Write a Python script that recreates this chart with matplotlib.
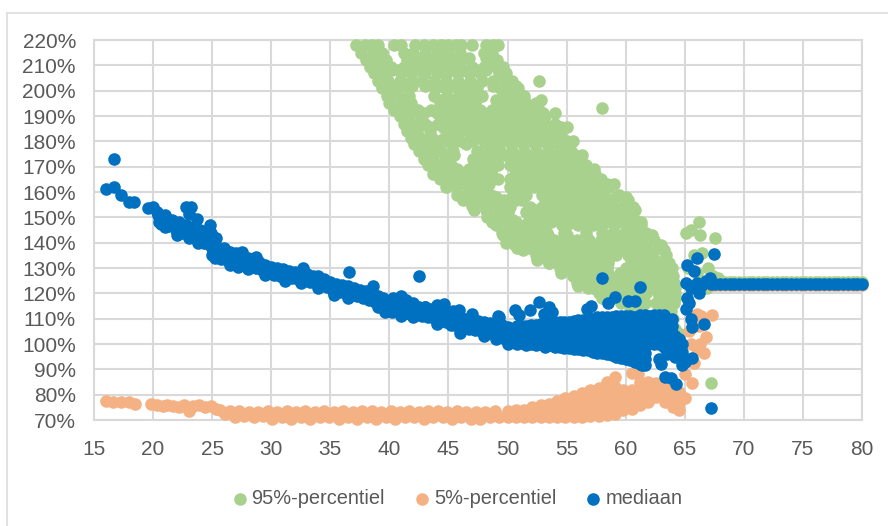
import matplotlib
matplotlib.use('Agg')
import matplotlib.pyplot as plt
from matplotlib.lines import Line2D

plt.rcParams['font.family'] = ['Liberation Sans', 'DejaVu Sans']

# 95%-percentiel, one row of ages per percentage level
green_levels = [218, 215, 212, 209.5, 207, 204, 201, 198, 195, 192.5, 190, 187, 184, 181.5, 179, 176, 173,
                170.5, 167, 165, 162, 159, 157, 154, 152, 149, 147, 144, 141, 139, 137, 135, 132, 130, 127,
                124, 122, 120, 118, 116, 113, 110, 106]
green_ages = [
    [37.2, 37.9, 38.5, 39.0, 40.4, 41.0, 42.2, 42.9, 43.7, 44.4, 45.0, 45.6, 46.1, 47.0, 48.2, 48.8, 49.2],
    [37.6, 38.6, 39.4, 41.2, 42.0, 43.0, 44.0, 45.0, 46.0, 48.0, 48.7],
    [38.0, 38.8, 39.7, 41.5, 42.8, 43.5, 44.4, 45.2, 46.0, 48.6, 49.1],
    [38.4, 39.4, 40.1, 41.2, 42.2, 43.2, 44.0, 45.0, 46.0, 47.0, 48.0, 49.0, 49.6],
    [38.7, 39.4, 41.0, 41.9, 43.0, 44.0, 44.9, 45.8, 46.7, 47.7, 49.3, 49.9],
    [39.0, 39.9, 40.9, 41.8, 42.8, 43.8, 44.8, 45.8, 46.8, 47.8, 48.8, 49.8, 50.4, 52.7],
    [39.4, 40.2, 41.6, 43.9, 44.7, 45.7, 46.6, 47.4, 49.4, 50.3, 50.9],
    [39.8, 40.7, 41.7, 43.8, 44.9, 45.9, 46.9, 47.8, 49.6, 50.6, 51.4],
    [40.0, 41.0, 41.8, 44.3, 45.2, 46.2, 47.1, 49.2, 50.2, 51.0, 51.6, 52.4],
    [40.4, 41.3, 42.4, 43.5, 44.7, 45.7, 46.7, 47.7, 48.7, 49.7, 50.7, 51.7, 52.7],
    [40.9, 41.6, 42.7, 44.6, 45.5, 46.6, 47.5, 48.5, 49.6, 50.5, 51.5, 52.4, 53.2],
    [41.2, 42.0, 43.0, 44.1, 45.1, 46.1, 47.1, 48.1, 49.1, 50.1, 51.1, 52.1, 53.1, 54.0],
    [41.5, 42.3, 43.4, 45.0, 46.0, 47.0, 48.0, 49.0, 50.0, 51.0, 52.0, 53.0, 54.0, 54.5],
    [41.8, 42.6, 43.6, 44.6, 45.6, 46.8, 47.6, 48.6, 49.6, 50.6, 51.6, 52.6, 53.6, 54.6],
    [42.1, 43.0, 44.0, 45.3, 46.5, 48.3, 49.3, 50.3, 51.3, 52.3, 53.3, 54.3, 55.0],
    [42.5, 43.4, 44.4, 45.4, 47.4, 48.4, 49.4, 50.4, 51.4, 52.4, 53.4, 54.4, 55.4],
    [42.9, 43.7, 44.8, 47.1, 48.0, 49.0, 50.7, 51.7, 52.7, 53.7, 54.7, 55.5, 56.0],
    [43.3, 44.2, 45.2, 47.2, 48.2, 49.2, 50.2, 51.2, 52.2, 53.2, 54.2, 55.2, 56.2, 56.6],
    [43.7, 44.6, 45.6, 46.6, 47.6, 48.6, 50.6, 51.6, 52.6, 53.6, 54.6, 55.6, 56.6, 57.4],
    [44.3, 45.1, 46.1, 47.2, 48.2, 49.2, 50.2, 51.2, 52.2, 53.2, 54.2, 55.2, 56.2, 57.2, 57.9],
    [44.8, 45.6, 47.0, 48.0, 50.2, 51.2, 52.2, 53.2, 54.2, 55.2, 56.2, 57.1, 57.8, 58.6],
    [45.7, 46.6, 47.6, 48.6, 50.6, 51.6, 52.9, 53.6, 54.6, 55.6, 56.6, 57.7, 58.2, 59.4],
    [46.2, 46.9, 47.8, 48.7, 49.7, 50.7, 51.2, 53.2, 54.2, 55.2, 56.2, 57.2, 58.2, 58.6, 60.2],
    [47.2, 48.2, 49.2, 50.2, 51.9, 52.9, 53.9, 54.9, 55.9, 56.9, 57.9, 58.9, 59.8, 60.6],
    [48.3, 49.3, 50.0, 51.6, 53.0, 53.6, 54.6, 55.6, 56.6, 57.6, 58.7, 59.5, 60.4],
    [48.7, 49.7, 50.5, 52.0, 53.0, 54.0, 55.0, 56.0, 57.0, 58.0, 59.0, 59.8, 60.8],
    [49.0, 50.0, 51.0, 52.0, 53.0, 54.6, 55.0, 56.0, 57.2, 58.0, 59.0, 60.0, 60.5, 61.3],
    [49.5, 50.5, 51.5, 52.5, 53.3, 54.8, 56.6, 58.0, 59.0, 60.0, 60.8, 61.7],
    [50.0, 50.8, 52.0, 52.9, 53.9, 54.9, 55.9, 56.9, 57.9, 58.9, 59.9, 60.7, 61.2, 62.4],
    [50.6, 51.6, 52.6, 53.6, 54.6, 55.6, 56.6, 57.6, 58.6, 59.6, 60.6, 61.5, 63.0],
    [51.3, 52.3, 53.3, 54.3, 55.3, 56.3, 57.3, 58.3, 59.3, 60.3, 61.2, 61.8, 63.2],
    [52.4, 53.2, 54.2, 55.2, 56.2, 57.2, 58.2, 59.2, 60.2, 61.2, 62.2, 63.4],
    [53.5, 54.5, 55.5, 56.5, 57.5, 58.5, 60.5, 61.5, 62.3, 62.7, 63.7],
    [54.4, 55.4, 56.4, 57.4, 58.4, 60.0, 61.0, 62.0, 62.9, 63.9],
    [55.5, 56.5, 57.5, 58.5, 59.5, 60.5, 61.5, 62.5, 63.0, 64.0],
    [55.9, 57.0, 58.0, 59.0, 60.0, 61.0, 62.0, 62.8, 63.2, 64.1],
    [56.8, 57.8, 58.8, 59.8, 60.8, 61.8, 62.8, 63.3, 64.2],
    [57.7, 58.7, 59.7, 60.7, 61.7, 62.7, 63.3, 64.2],
    [58.5, 59.5, 60.5, 61.2, 63.0, 63.5, 64.2],
    [59.6, 60.6, 61.6, 62.6, 63.5, 64.1],
    [60.4, 61.4, 63.2, 63.8],
    [62.0, 63.0, 63.6, 64.0],
    [63.8, 64.2],
]
# second pass over the solid part of the cloud
green_fill_levels = [213, 208, 202, 196.5, 191, 185.5, 180, 174.5, 169, 163, 158, 153, 148, 143, 138, 133, 128, 123, 118]
green_fill_ages = [
    [39.5, 42.0, 44.7, 46.7, 48.2],
    [40.2, 40.8, 42.5, 44.4, 45.3, 46.3, 47.2, 48.2, 49.6],
    [41.0, 41.9, 43.0, 44.3, 45.2, 46.2, 47.0, 48.8, 49.9, 50.7],
    [41.3, 44.4, 45.4, 46.4, 47.3, 49.0, 50.0, 51.0, 52.8],
    [41.8, 42.9, 44.0, 45.0, 46.0, 47.0, 48.0, 49.0, 50.0, 51.0, 52.0, 53.0, 54.0],
    [42.4, 43.4, 44.5, 45.5, 46.5, 47.5, 48.5, 49.5, 50.5, 51.5, 52.5, 53.5, 54.5, 55.0],
    [43.0, 44.0, 45.0, 46.0, 47.0, 48.0, 49.0, 50.0, 51.0, 52.0, 53.0, 54.0, 55.0, 55.5],
    [43.7, 44.7, 45.5, 47.7, 48.7, 49.7, 50.2, 51.2, 52.2, 53.2, 54.2, 55.2, 55.7, 56.3],
    [44.7, 45.7, 46.7, 47.7, 48.7, 50.7, 51.7, 52.7, 53.7, 54.7, 55.7, 56.7, 57.3],
    [45.2, 46.4, 47.4, 48.4, 50.7, 51.4, 52.4, 53.4, 54.4, 55.4, 56.4, 57.4, 58.4, 59.0],
    [46.2, 47.2, 48.2, 49.0, 50.4, 51.2, 53.4, 54.2, 55.2, 56.2, 57.2, 58.2, 59.2, 60.0],
    [47.2, 48.2, 49.5, 51.7, 52.5, 53.5, 54.5, 55.5, 56.5, 57.5, 58.5, 59.5, 60.0, 60.8],
    [48.7, 49.7, 50.7, 51.7, 52.7, 53.7, 54.7, 55.7, 56.7, 57.7, 58.7, 59.7, 60.7, 61.3],
    [49.6, 50.6, 51.6, 52.6, 53.4, 55.0, 58.6, 59.6, 60.6, 61.6, 62.2],
    [50.8, 51.8, 52.8, 53.8, 54.8, 55.8, 56.8, 57.8, 58.8, 59.8, 60.8, 61.8, 62.8],
    [52.5, 53.5, 54.5, 55.5, 56.5, 57.5, 58.5, 60.5, 61.5, 62.5, 63.4],
    [54.5, 55.5, 56.5, 57.5, 58.5, 59.5, 60.5, 61.5, 62.5, 63.8],
    [56.0, 57.0, 58.0, 59.0, 60.0, 61.0, 62.0, 63.0, 64.0],
    [58.0, 59.0, 60.0, 61.0, 63.0, 64.2],
]
green_other_x = [58.0, 65.5, 66.2, 66.3, 65.1, 65.8, 66.5, 65.3, 67.6, 67.0, 66.5, 67.2, 66.0, 66.9, 67.4, 64.6, 67.8,
                 45.0, 46.2, 47.0, 48.3, 49.6, 49.9, 53.5, 56.0, 57.2]
green_other_y = [193, 145, 148, 143, 144, 135, 136, 130, 142, 130, 125, 84.5, 128, 122, 127, 104, 126,
                 163, 158.6, 154.6, 150, 144.8, 139.7, 132, 125, 122]

# 5%-percentiel
orange_left_x = [16.0, 16.6, 17.3, 18.0, 18.5, 19.8, 20.3, 20.8, 21.2, 21.7, 22.2, 22.6, 23.0, 23.4, 23.9, 24.4, 24.9, 25.3]
orange_left_y = [77.5, 77, 77, 77, 76.5, 76.5, 76, 75.5, 76, 75.5, 75, 76, 73.5, 75.5, 76, 75, 75.5, 74.5]
orange_band_x = [
    25.7, 26.1, 26.5, 26.9, 27.3, 27.7, 28.1, 28.5, 28.9, 29.3,
    29.7, 30.1, 30.5, 30.9, 31.3, 31.7, 32.1, 32.5, 32.9, 33.3,
    33.7, 34.1, 34.5, 34.9, 35.3, 35.7, 36.1, 36.5, 36.9, 37.3,
    37.7, 38.1, 38.5, 38.9, 39.3, 39.7, 40.1, 40.5, 40.9, 41.3,
    41.7, 42.1, 42.5, 42.9, 43.3, 43.7, 44.1, 44.5, 44.9, 45.3,
    45.7, 46.1, 46.5, 46.9, 47.3, 47.7, 48.1, 48.5, 48.9, 49.3,
]
orange_band_y = [
    74, 72.5, 73.5, 71, 73.5, 71.5, 73, 71, 73, 71.5,
    73.5, 70.5, 73, 71, 73.5, 70.5, 73, 71, 73.5, 70.5,
    73, 71, 73.5, 71, 73, 70.5, 73.5, 71, 73, 70.5,
    73.5, 71, 73.5, 70.5, 73, 71, 73.5, 70.5, 73, 71,
    73.5, 71, 73, 70.5, 73.5, 71, 73.5, 71, 73, 70.5,
    73.5, 71, 73, 70.5, 73, 70.5, 73, 71, 73.5, 71,
]
orange_fan_x = [50.0, 50.7, 51.4, 52.1, 52.8, 53.5, 54.2, 54.9, 55.6, 56.3, 57.0, 57.7, 58.4, 59.1, 59.8, 60.5,
                61.2, 61.9, 62.6, 63.3, 64.0, 64.5]
orange_fan_y = [
    [71, 73.5], [71, 74], [71, 74], [71, 73.5, 75], [71, 73.5, 76], [71, 73.5, 76.5], [71, 73.5, 76, 77.5],
    [71, 73.5, 76, 78.5], [71, 74, 77, 79.5], [71, 74, 77, 80.5], [71.5, 74.5, 77.5, 80, 82],
    [71.5, 74.5, 77.5, 80, 82.5], [72, 75, 78, 81, 83, 85], [72.5, 75, 78, 80.5, 83, 87], [74, 77, 80, 82],
    [74.5, 77.5, 80, 82, 88.5], [76, 79, 82, 85], [77, 80, 83, 85], [79, 82, 84.5], [77, 80, 83], [75, 80, 83],
    [74, 77, 81],
]
orange_other_x = [61.0, 65.6, 65.8, 66.0, 66.6, 66.8, 67.3, 65.0, 66.3, 65.4, 66.2, 65.0, 65.5, 66.0, 66.4]
orange_other_y = [88, 84.6, 92.4, 112, 96.4, 102.7, 111.3, 78.7, 100, 105, 107, 88, 100, 98, 111]

# mediaan
blue_left_x = [16.0, 16.7, 16.7, 17.3, 18.0, 18.4, 19.6, 20.0, 20.3, 20.6, 21.0, 20.5, 21.3, 21.7, 22.0, 22.4,
               22.8, 22.8, 23.2, 23.0, 23.7, 24.8, 24.3, 24.0, 24.5, 25.0, 25.3, 23.4, 24.9, 25.0, 21.0, 22.0, 23.0, 23.8,
               20.4, 20.7, 21.0, 21.3, 21.6, 21.9, 22.2, 22.5, 22.8, 23.1, 23.4, 23.7, 24.0, 24.3, 24.6, 24.9, 25.2, 25.5]
blue_left_y = [161, 162, 173, 159, 156, 156, 153.5, 154, 152, 150, 151, 148, 149, 147, 146, 145,
               144, 154, 154, 151.5, 149.5, 147, 144, 142, 140, 139, 142, 144, 144, 135, 146, 143, 142, 140,
               151, 147.5, 150, 146.5, 149, 145, 148, 144, 147, 143, 146, 141.5, 145, 140, 143, 138.5, 141, 137]
blue_band_x = [
    25.0, 25.25, 25.5, 25.75, 26.0, 26.25, 26.5, 26.75, 27.0, 27.25,
    27.5, 27.75, 28.0, 28.25, 28.5, 28.75, 29.0, 29.25, 29.5, 29.75,
    30.0, 30.25, 30.5, 30.75, 31.0, 31.25, 31.5, 31.75, 32.0, 32.25,
    32.5, 32.75, 33.0, 33.25, 33.5, 33.75, 34.0, 34.25, 34.5, 34.75,
    35.0, 35.25, 35.5, 35.75, 36.0, 36.25, 36.5, 36.75, 37.0, 37.25,
    37.5, 37.75, 38.0, 38.25, 38.5, 38.75, 39.0, 39.25, 39.5, 39.75,
    40.0, 40.25, 40.5, 40.75, 41.0, 41.25, 41.5, 41.75, 42.0, 42.25,
    42.5, 42.75, 43.0, 43.25, 43.5, 43.75, 44.0, 44.25, 44.5, 44.75,
    45.0, 45.25, 45.5, 45.75, 46.0, 46.25, 46.5, 46.75, 47.0, 47.25,
    47.5, 47.75, 48.0, 48.25, 48.5, 48.75, 49.0, 49.25, 49.5, 49.75,
]
blue_band_y = [
    137.7, 134, 137.2, 133.5, 136.7, 133, 136.3, 132.7, 135.8, 132.3,
    134.8, 131.5, 134, 130.8, 133.2, 130, 132.3, 129.2, 131, 128.2,
    130.3, 127.3, 130, 127, 129.5, 126.5, 129, 126, 128.5, 125.5,
    128, 125, 127.8, 124.5, 127, 124, 126.3, 123.3, 125.5, 122.5,
    124.3, 121, 123.8, 120.5, 123.3, 120, 122.7, 119.5, 122, 119,
    121.5, 118.3, 120.8, 117.5, 120, 116.5, 119, 115.5, 118, 114,
    116.5, 112.8, 116.3, 112.5, 116, 112.3, 115.5, 112, 115, 111.5,
    114.8, 111, 114.5, 110.8, 114, 110.3, 113.5, 109.5, 112.5, 108.5,
    111.5, 107.5, 111, 107, 110.5, 106.5, 110, 106, 109.5, 105.5,
    109, 105, 108.5, 104.5, 108.3, 104, 108, 103, 107.5, 102,
]
blue_fan_x = [50.0, 50.4, 50.8, 51.2, 51.6, 52.0, 52.4, 52.8, 53.2, 53.6, 54.0, 54.4, 54.8, 55.2, 55.6, 56.0, 56.4, 56.8,
              57.2, 57.6, 58.0, 58.4, 58.8, 59.2, 59.6, 60.0, 60.4, 60.8, 61.2, 61.6, 62.0, 62.4, 62.8, 63.2, 63.5, 63.9,
              64.2, 64.5, 64.8]
blue_fan_y = [
    [100, 102.5, 105, 106.7], [101, 103.5, 106], [100, 102.5, 105, 107], [100.5, 103, 105.5, 107],
    [99.5, 102, 104.5, 107], [100, 103, 105.5, 107.5], [99.5, 102, 104.5, 107.5], [100, 102.5, 105, 107.8],
    [99, 101.5, 104, 106.5, 108], [99.5, 102, 104.5, 107, 108.5], [99, 101.5, 104, 106.5, 108.5], [99, 102, 104.5, 107, 108.5],
    [98.5, 101, 103.5, 106, 108.5], [98.5, 101, 103.5, 106, 108.5], [98, 100.5, 103, 105.5, 108, 109],
    [98, 100.5, 103, 105.5, 108, 109.5], [97.5, 100, 102.5, 105, 107.5, 109.5], [97.5, 100, 102.5, 105, 107.5, 110],
    [97, 99.5, 102, 104.5, 107, 110], [96.5, 99, 101.5, 104, 106.5, 109, 110.5], [96.5, 99, 101.5, 104, 106.5, 109, 110.5],
    [96, 98.5, 101, 103.5, 106, 108.5, 110.5], [95.5, 98, 100.5, 103, 105.5, 108, 110.5],
    [95, 97.5, 100, 102.5, 105, 107.5, 110, 111], [94.5, 97, 99.5, 102, 104.5, 107, 109.5, 111],
    [94, 96.5, 99, 101.5, 104, 106.5, 109, 111], [93.5, 96, 98.5, 101, 103.5, 106, 108.5, 111],
    [93, 95.5, 98, 100.5, 103, 105.5, 108, 110.5], [92, 95, 97.5, 100, 102.5, 105, 107.5, 110, 111.5],
    [91.7, 94, 96.5, 99, 101.5, 104, 106.5, 109, 111.5], [101, 103.5, 106, 108.5, 111], [100, 102.5, 105, 107.5, 110, 111.5],
    [94, 100, 103, 105.5, 108, 111.5], [99, 101.5, 104, 106.5, 109, 111.5], [96, 98, 100, 102.5, 105, 107.5, 110],
    [97, 99.5, 102, 104.5, 107, 110], [95, 97, 99, 101, 103], [97, 99.5, 102], [97, 100],
]
blue_other_x = [36.6, 42.5, 38.6, 41.0, 42.0, 43.0, 44.6, 45.9, 49.2, 32.7, 34.0, 49.3, 50.6, 51.0, 51.9, 52.7, 53.5, 53.1,
                53.8, 56.7, 57.1, 58.0, 58.5, 59.1, 60.2, 60.8, 61.2, 61.4, 63.0, 63.3, 63.8, 64.3, 64.8, 65.6, 65.0,
                65.6, 65.5, 66.6, 67.2, 67.5, 66.0, 65.2, 65.8, 65.1, 66.0, 65.2, 65.1, 67.1, 65.5, 66.4, 66.8, 65.4, 66.2,
                26.0, 27.5, 28.7, 26.5, 27.2, 28.0, 29.5, 31.2, 32.5, 34.0, 35.3, 36.5, 39.0, 39.6, 41.0, 42.0, 44.0, 46.0,
                48.0, 49.0, 40.3, 41.4, 44.0, 45.4, 47.0]
blue_other_y = [128.3, 127, 122.8, 119, 116, 114.5, 115.7, 113.3, 111, 130, 127, 110.5, 113.3, 111.6, 113.3, 116.5, 114.5, 112,
                112.5, 114, 115, 126, 116, 118.5, 117, 117, 122.5, 91.7, 92, 87, 86.5, 84.2, 91.7, 94.4, 93,
                106.6, 110, 108, 74.7, 135.7, 134, 131, 129, 124, 124, 118, 114, 126, 122, 123, 125, 116, 120,
                138, 136.5, 134.5, 131, 130.5, 129.5, 127.3, 125, 124, 122, 119.5, 118, 114.5, 112.8, 111, 110.5, 108, 104.5,
                103, 102, 118, 117.5, 115.5, 113, 112]

# the flat tail after age 67, the three series almost coincide
tail_x = [67.2, 67.6, 68.0, 68.4, 68.8, 69.2, 69.6, 70.0, 70.4, 70.8, 71.2, 71.6, 72.0, 72.4, 72.8, 73.2, 73.6, 74.0,
          74.4, 74.8, 75.2, 75.6, 76.0, 76.4, 76.8, 77.2, 77.6, 78.0, 78.4, 78.8, 79.2, 79.6, 80.0]
tail_green = 124.6
tail_orange = 123.2
tail_blue = 123.8

x_ticks = list(range(15, 85, 5))
y_ticks = list(range(70, 230, 10))

green_x = [a for row in green_ages + green_fill_ages for a in row] + green_other_x + tail_x
green_y = ([v for lev, row in zip(green_levels + green_fill_levels, green_ages + green_fill_ages) for v in [lev] * len(row)]
           + green_other_y + [tail_green] * len(tail_x))
orange_x = orange_left_x + orange_band_x + [a for a, col in zip(orange_fan_x, orange_fan_y) for _ in col] + orange_other_x + tail_x
orange_y = orange_left_y + orange_band_y + [v for col in orange_fan_y for v in col] + orange_other_y + [tail_orange] * len(tail_x)
blue_x = blue_left_x + blue_band_x + [a for a, col in zip(blue_fan_x, blue_fan_y) for _ in col] + blue_other_x + tail_x
blue_y = blue_left_y + blue_band_y + [v for col in blue_fan_y for v in col] + blue_other_y + [tail_blue] * len(tail_x)

fig = plt.figure(figsize=(8.88, 5.26), dpi=100)
# chart frame: only the left and top edges fall inside the picture
fig.add_artist(Line2D([7 / 888, 7 / 888], [0, 1 - 13 / 526], transform=fig.transFigure, color='#E2E2E2', linewidth=1.5))
fig.add_artist(Line2D([7 / 888, 1], [1 - 13 / 526, 1 - 13 / 526], transform=fig.transFigure, color='#E2E2E2', linewidth=1.5))

ax = fig.add_axes([94 / 888, 1 - 420 / 526, 768 / 888, 380 / 526])
ax.scatter(green_x, green_y, s=82, color='#A9D18E', linewidths=0, label='95%-percentiel', zorder=3, clip_on=False)
ax.scatter(orange_x, orange_y, s=82, color='#F4B183', linewidths=0, label='5%-percentiel', zorder=4, clip_on=False)
ax.scatter(blue_x, blue_y, s=82, color='#0070C0', linewidths=0, label='mediaan', zorder=5, clip_on=False)

ax.set_xlim(15, 80)
ax.set_ylim(70, 220)
ax.set_xticks(x_ticks)
ax.set_yticks(y_ticks)
ax.set_yticklabels([f'{v}%' for v in y_ticks])
ax.grid(True, color='#D9D9D9', linewidth=1.5, zorder=0)
ax.set_axisbelow(True)
ax.tick_params(axis='x', length=0, labelsize=15, labelcolor='#595959', pad=14.5)
ax.tick_params(axis='y', length=0, labelsize=15, labelcolor='#595959', pad=13)
for spine in ax.spines.values():
    spine.set_color('#D9D9D9')
    spine.set_linewidth(1.5)

fig.legend(loc='center', bbox_to_anchor=(457 / 888, 1 - 498.5 / 526), ncol=3, frameon=False,
           fontsize=14.4, labelcolor='#595959', handlelength=0.8, handletextpad=0.2, columnspacing=1.45, scatterpoints=1)

fig.savefig('out.png', dpi=100)
